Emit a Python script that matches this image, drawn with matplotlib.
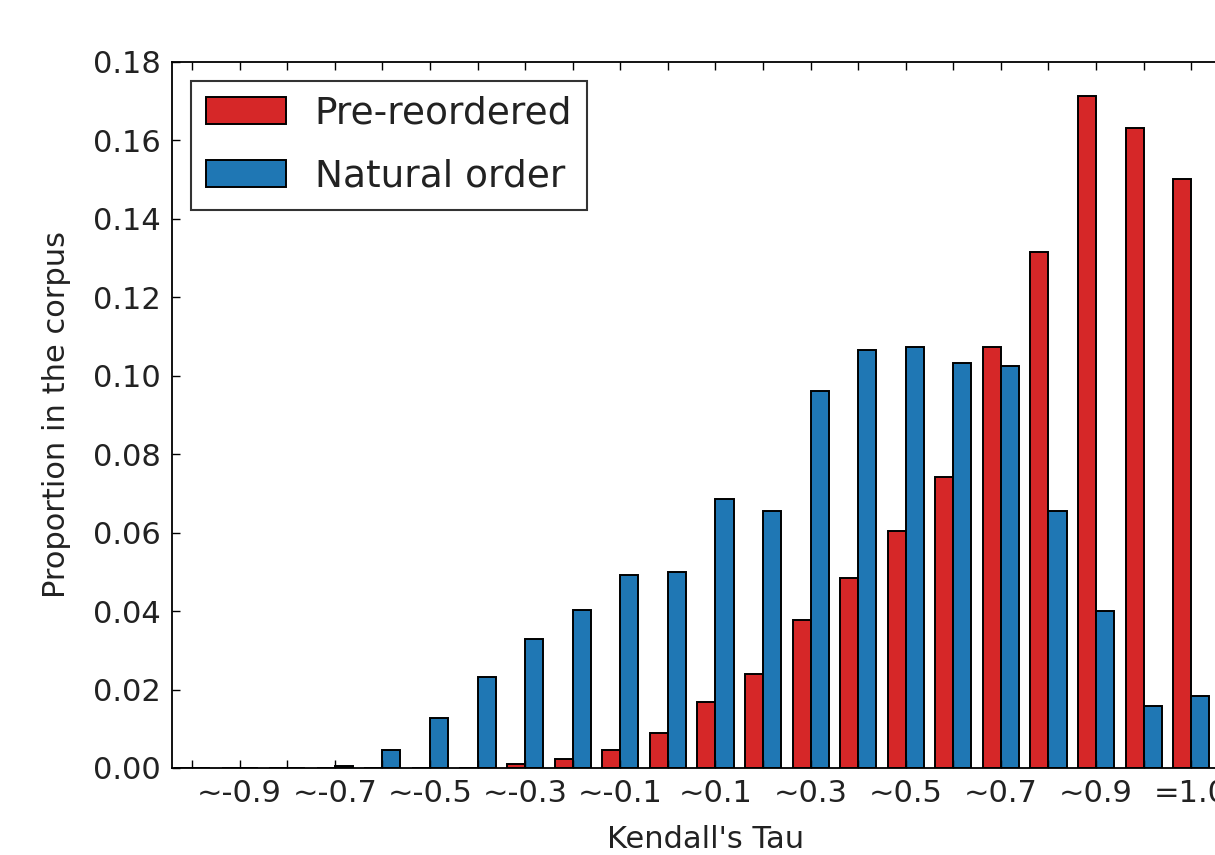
import matplotlib.pyplot as plt
import numpy as np

tau_labels = ["~-1.0", "~-0.9", "~-0.8", "~-0.7", "~-0.6", "~-0.5", "~-0.4", "~-0.3",
              "~-0.2", "~-0.1", "~0.0", "~0.1", "~0.2", "~0.3", "~0.4", "~0.5",
              "~0.6", "~0.7", "~0.8", "~0.9", "~1.0", "=1.0"]
pre_reordered = [0, 0, 0, 0, 0, 0, 0, 0.0009, 0.0022, 0.0046, 0.0088, 0.0167,
                 0.0240, 0.0377, 0.0485, 0.0605, 0.0743, 0.1074, 0.1316, 0.1713,
                 0.1631, 0.1502]
natural_order = [0, 0, 0, 0.0006, 0.0046, 0.0128, 0.0233, 0.0329, 0.0403, 0.0492,
                 0.0499, 0.0685, 0.0654, 0.0960, 0.1066, 0.1073, 0.1033, 0.1026,
                 0.0654, 0.0401, 0.0159, 0.0184]

text_color = "#222222"
plt.rcParams['font.family'] = ['DejaVu Sans']

fig = plt.figure(figsize=(12.15, 8.55), dpi=100)
ax = fig.add_axes([0.1416, 0.1018, 0.878, 0.8257])

x = np.arange(len(tau_labels))
w = 0.38
ax.bar(x - w / 2, pre_reordered, w, color="#d62728", edgecolor="black",
       linewidth=1.4, label="Pre-reordered")
ax.bar(x + w / 2, natural_order, w, color="#1f77b4", edgecolor="black",
       linewidth=1.4, label="Natural order")

ax.set_xlim(-0.42, 22.0)
ax.set_ylim(0, 0.18)
ax.set_xticks(x)
# only every other category gets a visible label
ax.set_xticklabels([l if i % 2 else "" for i, l in enumerate(tau_labels)])
ax.set_yticks(np.arange(0, 0.181, 0.02))
ax.set_yticklabels(["%.2f" % v for v in np.arange(0, 0.181, 0.02)])
ax.tick_params(direction="in", top=True, right=True, length=6, width=1,
               labelsize=22, pad=8, labelcolor=text_color)
for s in ax.spines.values():
    s.set_linewidth(1.3)

ax.set_xlabel("Kendall's Tau", fontsize=22, color=text_color, labelpad=12)
ax.set_ylabel("Proportion in the corpus", fontsize=22, color=text_color, labelpad=16)

leg = ax.legend(loc="upper left", fontsize=27, fancybox=False, labelspacing=0.72,
                handlelength=2.15, handleheight=0.75, handletextpad=0.75,
                borderaxespad=0.5)
leg.get_frame().set_edgecolor("black")
leg.get_frame().set_linewidth(1.5)
for t in leg.get_texts():
    t.set_color(text_color)

fig.savefig("out.png", dpi=100, facecolor="white")
